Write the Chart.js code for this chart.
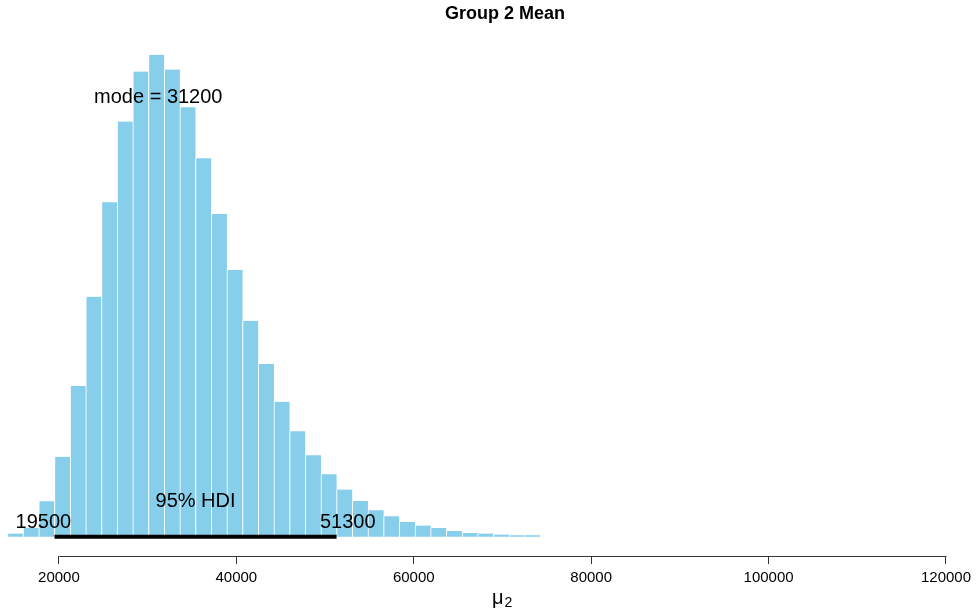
<!DOCTYPE html>
<html>
<head>
<meta charset="utf-8">
<title>Group 2 Mean</title>
<script src="https://cdn.jsdelivr.net/npm/chart.js@4.4.1/dist/chart.umd.min.js"></script>
<style>
  html, body { margin: 0; padding: 0; background: #fff; }
</style>
</head>
<body>
<canvas id="postChart" width="976" height="616"></canvas>
<script>
// posterior histogram of mu2: bin edges and densities (in units of 1e-5)
const binEdges = [
  14200, 15967, 17734, 19501, 21268, 23035, 24802, 26569, 28336, 30103,
  31870, 33637, 35404, 37171, 38938, 40705, 42472, 44239, 46006, 47773,
  49540, 51307, 53074, 54841, 56608, 58375, 60142, 61909, 63676, 65443,
  67210, 68977, 70744, 72511, 74278
];
const densities = [
  0.032, 0.088, 0.355, 0.798, 1.505, 2.398, 3.342, 4.148, 4.648, 4.815,
  4.668, 4.292, 3.782, 3.225, 2.665, 2.158, 1.725, 1.348, 1.055, 0.815,
  0.625, 0.472, 0.358, 0.265, 0.205, 0.148, 0.112, 0.088, 0.058, 0.038,
  0.032, 0.022, 0.015, 0.015
];
const tickValues = [20000, 40000, 60000, 80000, 100000, 120000];
const modeValue = 31200;
const hdiLimits = [19500, 51300];
const credMass = 95;

const FONT = '"Liberation Sans", Arial, Helvetica, sans-serif';

const histData = densities.map((d, i) => ({ x: (binEdges[i] + binEdges[i + 1]) / 2, y: d }));
const peak = Math.max(...densities);

// mode text, HDI bar with its limits, R-style axis line and the mu[2] label
const hdiMarks = {
  id: 'hdiMarks',
  afterDatasetsDraw(chart) {
    const { ctx, chartArea } = chart;
    const x = chart.scales.x;
    const y = chart.scales.y;
    const y0 = y.getPixelForValue(0);
    const lo = x.getPixelForValue(hdiLimits[0]);
    const hi = x.getPixelForValue(hdiLimits[1]);

    ctx.save();
    ctx.strokeStyle = '#000';
    ctx.lineWidth = 4;
    ctx.lineCap = 'butt';
    ctx.beginPath();
    ctx.moveTo(lo, y0);
    ctx.lineTo(hi, y0);
    ctx.stroke();

    ctx.font = '20px ' + FONT;
    ctx.fillStyle = '#000';
    ctx.textBaseline = 'alphabetic';
    ctx.textAlign = 'center';
    ctx.fillText('mode = ' + modeValue, x.getPixelForValue(modeValue), y.getPixelForValue(0.9 * peak));
    ctx.fillText(credMass + '% HDI', (lo + hi) / 2, y0 - 29.5);

    ctx.textAlign = 'left';
    const loText = String(hdiLimits[0]);
    const hiText = String(hdiLimits[1]);
    ctx.fillText(loText, lo - 0.7 * ctx.measureText(loText).width, y0 - 8.5);
    ctx.fillText(hiText, hi - 0.3 * ctx.measureText(hiText).width, y0 - 8.5);

    // axis line only spans the outer ticks
    const axisY = Math.round(x.top) + 0.5;
    ctx.strokeStyle = '#333';
    ctx.lineWidth = 1;
    ctx.beginPath();
    ctx.moveTo(Math.round(x.getPixelForValue(tickValues[0])) + 0.5, axisY);
    ctx.lineTo(Math.round(x.getPixelForValue(tickValues[tickValues.length - 1])) + 0.5, axisY);
    ctx.stroke();

    // axis title: mu with subscript 2
    const cx = (chartArea.left + chartArea.right) / 2;
    const base = x.bottom + 11.5;
    ctx.font = '20px ' + FONT;
    const muW = ctx.measureText('μ').width;
    ctx.font = '14px ' + FONT;
    const subW = ctx.measureText('2').width;
    const start = cx - (muW + 1 + subW) / 2;
    ctx.font = '20px ' + FONT;
    ctx.fillText('μ', start, base);
    ctx.font = '14px ' + FONT;
    ctx.fillText('2', start + muW + 1, base + 3.5);
    ctx.restore();
  }
};

new Chart(document.getElementById('postChart'), {
  type: 'bar',
  data: {
    datasets: [{
      data: histData,
      backgroundColor: '#87CEEB',
      borderColor: '#ffffff',
      borderWidth: { left: 1, right: 0, top: 0, bottom: 0 },
      barPercentage: 1,
      categoryPercentage: 1,
      clip: false
    }]
  },
  options: {
    responsive: false,
    animation: false,
    layout: { padding: { left: 34, right: 0, top: 0, bottom: 24 } },
    plugins: {
      legend: { display: false },
      tooltip: { enabled: false },
      title: {
        display: true,
        text: 'Group 2 Mean',
        color: '#000',
        font: { family: FONT, size: 18, weight: 'bold' },
        padding: { top: 3, bottom: 11 }
      }
    },
    scales: {
      x: {
        type: 'linear',
        min: 17190,
        max: 122720,
        offset: false,
        border: { display: false },
        grid: { drawOnChartArea: false, drawTicks: true, tickLength: 8, color: '#333', offset: false },
        afterBuildTicks: scale => { scale.ticks = tickValues.map(v => ({ value: v })); },
        ticks: {
          autoSkip: false,
          maxRotation: 0,
          padding: 5,
          color: '#000',
          font: { family: FONT, size: 15 },
          callback: v => String(v)
        }
      },
      y: {
        display: false,
        min: -0.04 * peak,
        max: 1.04 * peak
      }
    }
  },
  plugins: [hdiMarks]
});
</script>
</body>
</html>
